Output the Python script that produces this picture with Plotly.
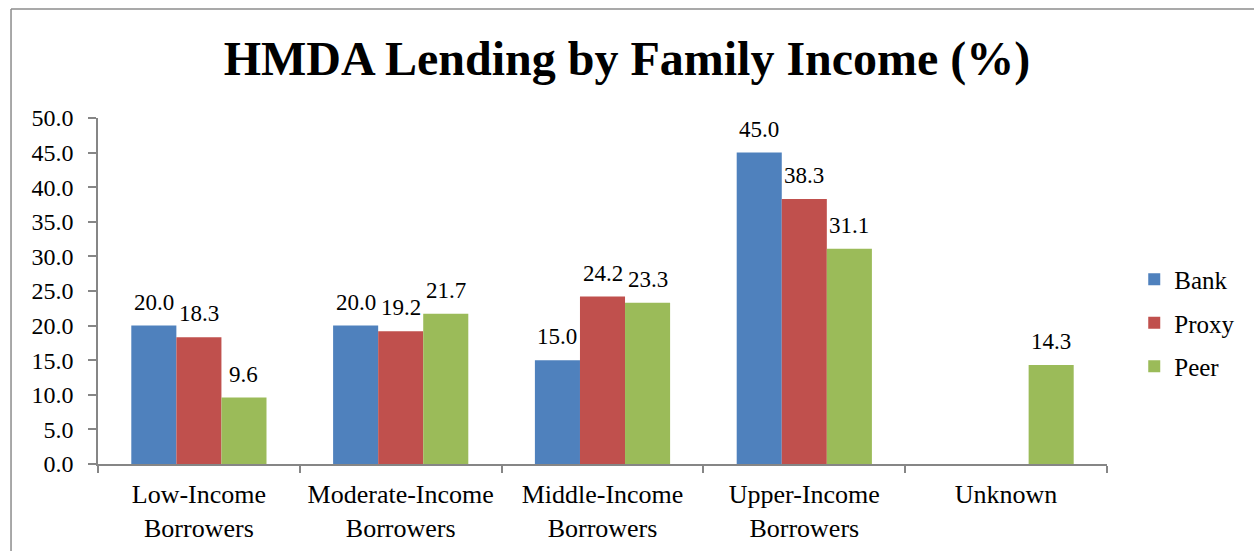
import plotly.graph_objects as go

categories = ["Low-Income<br>Borrowers", "Moderate-Income<br>Borrowers",
              "Middle-Income<br>Borrowers", "Upper-Income<br>Borrowers", "Unknown"]
bank = [20.0, 20.0, 15.0, 45.0, None]
proxy = [18.3, 19.2, 24.2, 38.3, None]
peer = [9.6, 21.7, 23.3, 31.1, 14.3]
y_ticks = [0, 5, 10, 15, 20, 25, 30, 35, 40, 45, 50]

series = [("Bank", bank, "#4F81BD"), ("Proxy", proxy, "#C0504D"), ("Peer", peer, "#9BBB59")]

FONT = "'Times New Roman', 'Liberation Serif', Times, serif"
AXIS = "#868686"

W, H = 1254, 551
M = dict(l=98, r=147, t=118, b=87)
BARGAP = 0.33

fig = go.Figure()
for name, vals, color in series:
    fig.add_trace(go.Bar(
        x=categories, y=vals, name=name, legendgroup=name,
        marker=dict(color=color, line=dict(width=0)),
    ))

# value labels above each bar, shifted sideways to sit over its bar in the group
plot_w = W - M["l"] - M["r"]
bar_px = plot_w / len(categories) * (1 - BARGAP) / len(series)
annotations = []
for i, (name, vals, color) in enumerate(series):
    for cat, v in zip(categories, vals):
        if v is None:
            continue
        annotations.append(dict(
            x=cat, y=v, xref="x", yref="y", text=f"{v:.1f}", showarrow=False,
            xanchor="center", yanchor="bottom", xshift=(i - 1) * bar_px, yshift=9,
            font=dict(family=FONT, size=23, color="black"),
        ))

fig.update_layout(
    width=W, height=H, margin=M,
    paper_bgcolor="white", plot_bgcolor="white",
    barmode="group", bargap=BARGAP, bargroupgap=0,
    font=dict(family=FONT, color="black"),
    title=dict(text="<b>HMDA Lending by Family Income (%)</b>",
               font=dict(family=FONT, size=48, color="black"),
               x=0.5, xanchor="center", y=1 - 58 / H, yanchor="middle"),
    showlegend=True,
    legend=dict(x=1.027, xanchor="left", y=0.4075, yanchor="middle",
                font=dict(family=FONT, size=25, color="black"),
                tracegroupgap=8, itemwidth=30, bgcolor="rgba(0,0,0,0)"),
    xaxis=dict(showline=True, linecolor=AXIS, linewidth=1.5,
               ticks="outside", tickson="boundaries", ticklen=7, tickcolor=AXIS, tickwidth=1.5,
               tickfont=dict(family=FONT, size=26, color="black"),
               ticklabelstandoff=6, automargin=False,
               showgrid=False, zeroline=False),
    yaxis=dict(range=[0, 50], tickvals=y_ticks, tickformat=".1f",
               showline=True, linecolor=AXIS, linewidth=1.5,
               ticks="outside", ticklen=8, tickcolor=AXIS, tickwidth=1.5,
               tickfont=dict(family=FONT, size=24, color="black"),
               ticklabelstandoff=10, automargin=False,
               showgrid=False, zeroline=False),
    annotations=annotations,
    shapes=[
        dict(type="line", xref="paper", yref="paper", x0=-0.0862, x1=1.2, y0=1.315, y1=1.315,
             line=dict(color="#8c8c8c", width=1.5)),
        dict(type="line", xref="paper", yref="paper", x0=-0.0862, x1=-0.0862, y0=1.315, y1=-0.3,
             line=dict(color="#8c8c8c", width=1.5)),
    ],
)

fig.write_html("out.html")
